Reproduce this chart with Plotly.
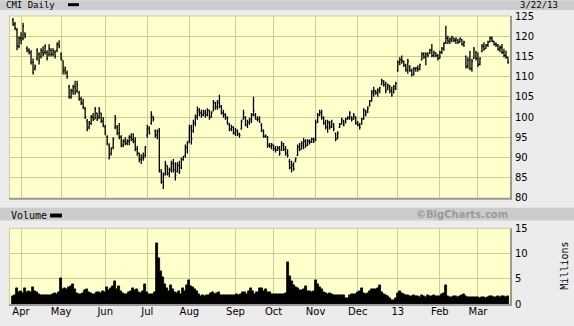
import pandas as pd
import plotly.graph_objects as go

# ---------------- data ----------------
holidays = ["2012-04-06", "2012-05-28", "2012-07-04", "2012-09-03", "2012-10-29",
            "2012-10-30", "2012-11-22", "2012-12-25", "2013-01-01", "2013-01-21",
            "2013-02-18"]
dates = [d.strftime("%Y-%m-%d") for d in pd.bdate_range("2012-03-27", "2013-03-22")
         if d.strftime("%Y-%m-%d") not in holidays]

opens = [124.0,123.0,121.5,117.5,119.5,119.5,120.5,117.0,116.5,116.0,
         113.5,112.0,114.5,115.5,115.0,116.0,116.0,116.0,115.5,116.5,
         115.5,116.0,116.5,118.0,115.5,114.0,111.5,111.0,107.5,105.0,
         106.5,107.5,106.5,106.0,104.5,103.5,102.0,99.0,97.5,98.5,
         100.0,99.5,101.0,100.0,101.0,99.0,97.5,95.0,93.0,91.0,
         92.5,97.5,97.5,96.0,95.0,93.0,94.0,93.5,94.0,95.0,
         94.5,94.0,92.0,91.0,89.5,90.0,90.5,95.5,97.0,98.5,
         100.0,96.5,95.5,96.5,86.5,84.0,86.0,88.0,86.0,87.0,
         88.5,87.0,86.5,88.0,87.5,89.5,90.5,92.5,94.0,97.0,
         96.5,98.5,100.0,101.5,101.0,100.5,101.0,100.5,101.5,100.0,
         101.5,103.5,102.5,103.5,102.5,101.0,100.5,99.8,98.0,97.0,
         97.5,96.0,96.5,95.8,97.0,99.5,100.0,98.0,98.5,99.0,
         100.5,100.5,99.5,99.5,98.0,96.5,95.2,95.0,93.0,92.8,
         93.0,92.2,91.8,92.3,91.8,93.0,92.0,91.0,89.0,87.5,
         88.0,89.0,90.5,92.5,92.0,93.0,94.0,93.0,94.0,93.8,
         94.5,94.5,98.8,100.5,101.0,99.8,98.5,97.5,98.5,97.5,
         98.0,96.0,94.8,97.5,98.3,99.0,98.5,99.5,99.8,100.0,
         99.5,100.0,98.5,98.0,98.3,99.5,101.5,101.2,102.8,104.0,
         106.0,106.5,106.0,106.5,108.0,108.8,108.0,106.8,107.5,106.5,
         106.0,107.0,111.5,113.5,114.0,113.8,112.8,111.5,112.5,111.5,
         110.5,111.8,112.0,111.8,114.2,115.5,114.8,115.5,115.8,116.5,
         115.2,115.8,115.2,114.5,116.0,116.8,118.5,119.5,118.8,119.0,
         119.5,119.0,119.0,118.5,119.2,118.0,115.0,112.5,114.0,112.0,
         114.5,116.0,114.5,113.0,116.2,117.5,117.0,117.8,118.6,119.5,
         118.8,118.0,117.8,116.8,117.2,116.0,115.2,114.8]

highs = [124.5,123.5,122.0,120.0,121.0,123.3,121.0,117.5,117.0,116.5,
         114.5,113.0,117.0,116.0,117.0,117.5,118.0,116.5,118.0,117.0,
         117.0,116.5,118.5,119.0,116.0,114.0,112.5,111.5,108.0,107.0,
         108.0,109.0,109.0,106.5,105.0,104.5,102.5,99.5,99.0,100.5,
         101.0,102.5,101.0,102.5,101.0,100.0,98.0,95.5,93.5,92.5,
         95.0,100.5,98.0,98.5,95.5,94.5,95.0,94.5,95.5,96.0,
         96.0,95.0,92.8,91.2,90.8,91.2,92.8,98.1,97.7,101.4,
         100.2,96.9,96.9,97.3,87.1,86.3,89.2,88.0,87.5,89.2,
         89.6,88.8,88.8,89.2,90.0,90.4,93.2,94.0,98.1,98.1,
         99.3,100.6,102.6,102.2,101.8,101.8,101.8,102.2,101.8,101.4,
         104.2,103.8,104.2,105.5,103.0,101.8,101.0,100.2,98.5,98.1,
         97.7,97.3,96.9,96.1,99.3,101.8,100.2,99.3,99.8,101.0,
         105.0,101.0,100.2,100.2,98.5,96.9,95.7,95.3,93.6,93.6,
         93.2,92.8,92.8,92.8,94.0,93.6,92.8,92.0,89.6,89.2,
         88.8,90.0,93.2,93.6,94.0,94.9,94.5,94.5,94.5,94.9,
         94.9,99.3,101.0,101.8,101.8,100.2,99.3,99.3,99.0,99.3,
         98.5,96.1,96.5,98.5,99.8,99.3,99.8,100.2,101.4,100.2,
         101.0,100.2,99.0,98.5,99.8,102.2,101.8,102.6,104.2,106.7,
         107.5,106.7,107.1,107.5,109.5,109.1,108.7,108.3,107.9,107.5,
         107.9,108.7,114.0,114.8,115.2,114.0,113.2,114.4,112.8,112.0,
         112.4,112.4,112.8,113.2,116.0,116.0,116.0,116.0,116.9,118.1,
         116.4,116.0,115.6,116.4,117.3,118.5,122.6,120.1,119.7,120.1,
         119.7,119.7,119.3,119.7,119.3,118.9,115.2,114.8,116.4,114.4,
         117.3,116.4,116.0,114.8,118.1,118.5,118.1,118.9,119.9,119.9,
         118.9,118.5,118.1,117.7,118.1,116.9,116.4,114.8]

lows = [122.5,121.5,116.5,117.0,118.0,119.0,119.5,116.0,115.5,113.0,
        110.5,111.5,114.0,113.0,114.5,115.0,115.5,114.0,115.0,115.0,
        115.0,114.5,116.0,117.0,114.0,110.5,110.5,109.5,104.5,104.5,
        105.5,105.5,106.0,104.0,103.0,102.0,99.5,96.5,97.0,98.0,
        99.0,99.5,99.0,99.5,98.5,97.5,95.5,93.0,89.5,90.5,
        92.0,97.0,95.5,94.5,92.5,92.5,93.0,93.0,93.0,94.0,
        93.5,91.5,90.4,88.8,88.4,89.2,90.0,94.9,95.7,98.1,
        98.9,94.9,94.5,86.3,83.5,82.2,85.5,85.5,85.1,86.3,
        86.3,84.3,86.3,85.9,87.1,89.2,90.0,91.0,93.6,93.2,
        96.1,97.7,99.3,100.2,99.8,100.2,99.8,100.2,99.3,99.8,
        101.4,101.8,101.8,102.2,100.6,99.8,99.3,98.1,96.5,96.5,
        95.7,95.3,95.3,94.9,96.9,99.3,97.7,97.3,98.1,98.5,
        100.2,99.3,98.9,98.5,96.3,94.9,94.9,92.4,92.4,92.0,
        91.6,91.2,91.6,90.4,91.6,91.6,90.4,90.0,87.1,86.3,
        86.7,88.8,90.4,91.6,92.0,92.0,92.4,92.8,93.2,93.6,
        93.6,94.0,98.5,100.2,99.3,98.1,96.9,96.1,96.9,97.3,
        96.5,94.0,94.5,97.3,98.1,97.7,98.5,99.3,99.3,98.9,
        99.3,98.1,97.7,96.9,98.1,99.3,100.2,101.0,102.6,103.8,
        105.0,105.5,105.0,105.9,107.9,107.5,105.9,106.7,105.9,105.0,
        105.9,106.7,111.2,112.8,113.2,112.4,111.2,110.7,111.2,110.0,
        110.3,111.2,111.2,111.6,114.0,114.4,112.8,114.8,115.6,114.8,
        114.8,114.8,114.0,114.4,115.6,116.4,118.1,118.1,118.1,118.5,
        118.5,118.1,118.1,118.5,117.7,117.3,112.0,112.0,111.6,111.2,
        114.4,114.0,112.4,112.8,116.0,116.4,116.9,117.3,118.5,118.5,
        117.7,117.3,116.4,116.0,115.6,114.8,114.4,113.2]

closes = [123.0,122.0,117.5,119.5,119.0,122.5,120.0,116.5,116.0,113.5,
          111.0,112.5,116.5,114.0,116.5,115.5,117.5,114.5,117.0,115.5,
          116.5,115.0,118.0,117.5,114.5,111.5,112.0,110.0,105.0,106.5,
          107.5,106.0,108.0,104.5,103.5,102.5,100.0,97.0,98.5,100.0,
          99.5,102.0,99.5,101.5,99.0,98.0,96.0,93.5,90.5,92.0,
          94.5,99.5,96.0,95.0,93.0,94.0,93.5,94.0,95.0,94.5,
          94.0,92.0,91.0,89.5,90.0,89.8,92.5,97.5,96.0,100.5,
          99.5,95.5,96.5,87.0,84.0,85.5,88.5,86.0,87.0,88.5,
          87.0,85.5,88.0,86.5,89.5,90.0,92.5,93.5,97.5,94.5,
          98.5,100.0,102.0,101.0,100.5,101.5,100.5,101.8,99.8,101.0,
          103.5,102.5,103.8,102.8,101.0,100.5,99.8,98.5,97.0,97.5,
          96.0,96.8,95.8,95.5,99.0,101.0,98.0,98.8,99.5,100.5,
          101.5,99.5,99.5,98.8,96.8,95.2,95.5,93.0,92.8,93.2,
          92.2,91.8,92.3,91.0,93.5,92.0,91.0,90.5,87.5,88.0,
          87.2,89.8,92.8,92.0,93.5,94.0,93.0,94.0,93.8,94.5,
          94.0,98.5,100.5,101.2,99.8,98.5,97.5,98.8,97.5,98.8,
          97.0,94.5,96.0,98.2,99.5,98.0,99.5,99.8,101.0,99.5,
          100.5,98.5,98.0,97.5,99.5,101.8,100.8,102.3,104.0,106.2,
          106.5,106.0,106.8,107.2,109.0,108.0,106.5,107.8,106.5,105.5,
          107.5,108.3,113.5,114.2,113.8,112.8,111.8,113.8,111.5,110.5,
          112.0,112.2,111.8,113.0,115.5,114.8,115.5,115.2,116.5,115.2,
          116.0,115.2,114.5,116.0,117.0,118.2,119.5,118.8,119.3,119.8,
          119.0,119.5,118.5,119.5,118.0,118.5,112.5,114.0,112.0,113.8,
          116.8,114.5,113.0,114.5,117.5,116.8,117.8,118.5,119.6,118.8,
          118.0,117.8,116.8,117.2,116.0,115.2,114.8,113.5]

volume_millions = [1.6,1.8,3.2,2.4,2.6,2.2,3.1,2.4,2.6,2.3,
                   3.4,2.6,2.4,2.0,1.7,1.8,1.7,1.8,1.7,1.8,
                   1.9,2.2,2.0,2.3,5.1,3.0,3.2,2.9,3.3,3.5,
                   3.9,2.9,2.1,1.9,2.0,2.1,2.8,3.0,2.4,2.2,
                   2.0,1.9,2.3,2.4,2.2,2.5,2.3,3.4,2.8,3.2,
                   3.6,4.4,3.0,3.5,2.6,2.2,2.0,2.0,2.3,2.6,
                   3.2,2.7,3.0,2.4,2.2,2.6,3.9,2.3,1.9,2.0,
                   1.9,2.3,12.0,9.0,6.5,5.2,4.0,3.2,2.6,3.8,
                   3.0,2.4,2.2,2.6,2.0,3.1,2.6,3.8,4.7,3.6,
                   3.4,3.0,2.5,1.9,1.6,1.8,1.6,1.7,1.8,2.1,
                   2.4,2.0,2.2,2.3,1.8,1.8,1.7,1.8,1.8,1.7,
                   1.8,1.8,1.9,1.8,1.9,2.4,2.3,2.0,2.6,3.2,
                   2.6,2.0,2.4,3.1,3.2,2.5,2.9,2.4,2.3,1.9,
                   1.9,2.0,2.0,1.9,2.0,2.0,2.1,8.2,5.5,4.4,
                   3.8,3.4,3.2,2.8,2.7,2.9,3.5,2.6,2.5,2.3,
                   2.5,4.6,3.9,3.3,3.0,2.3,2.2,2.0,2.2,1.9,
                   1.8,1.7,1.7,1.7,1.7,1.7,1.1,1.2,1.8,2.0,
                   1.9,2.0,2.4,2.6,3.2,2.2,2.0,2.1,2.6,3.0,
                   2.9,3.0,3.2,3.7,2.4,2.0,1.7,1.5,1.1,0.8,
                   0.7,1.2,2.1,2.6,2.2,1.9,1.7,1.7,1.6,1.6,
                   1.7,1.6,1.5,1.4,1.8,1.6,1.4,1.8,1.6,1.5,
                   1.7,1.5,1.5,1.6,1.9,2.2,3.8,1.6,1.4,1.3,
                   1.5,1.6,1.4,1.5,1.8,2.0,1.5,1.4,1.4,1.3,
                   1.3,1.4,1.3,1.2,1.3,1.3,1.2,1.3,1.6,1.5,
                   1.4,1.3,1.5,1.4,1.5,1.6,1.4,1.5]

month_labels = ["Apr", "May", "Jun", "Jul", "Aug", "Sep", "Oct", "Nov", "Dec", "13", "Feb", "Mar"]
price_ticks = [80, 85, 90, 95, 100, 105, 110, 115, 120, 125]
volume_ticks = [0, 5, 10, 15]

# first trading day of each month (month starts after the first, partial month)
month_starts = [d for i, d in enumerate(dates) if i > 0 and d[:7] != dates[i - 1][:7]]

# ---------------- geometry helpers (pixel -> paper) ----------------
W, H = 574, 326
L, R, T, B = 9, 64, 16, 17
PW, PH = W - L - R, H - T - B


def px(p):
    return (p - L) / PW


def py(p):
    return (H - B - p) / PH


GRID = "#cccc99"
PLOT_BG = "#ffffcc"
PAPER = "#ececec"
STRIP = "#cccccc"
SHADOW = "#999999"

fig = go.Figure()
fig.add_trace(go.Ohlc(
    x=dates, open=opens, high=highs, low=lows, close=closes,
    xaxis="x", yaxis="y", tickwidth=0.5,
    increasing=dict(line=dict(color="black", width=1.3)),
    decreasing=dict(line=dict(color="black", width=1.3)),
    showlegend=False, hoverinfo="skip",
))
fig.add_trace(go.Bar(
    x=dates, y=volume_millions, xaxis="x2", yaxis="y2",
    marker=dict(color="black", line=dict(width=0.8, color="black")), width=1.0,
    showlegend=False, hoverinfo="skip",
))

xcommon = dict(type="category", range=[-2.0, 248.0], tickmode="array",
               tickvals=month_starts, ticktext=month_labels, showgrid=True,
               gridcolor=GRID, gridwidth=1, ticks="", showline=False, zeroline=False,
               tickfont=dict(family="DejaVu Sans", size=10, color="black"))

fig.update_layout(
    width=W, height=H,
    margin=dict(l=L, r=R, t=T, b=B, pad=0),
    paper_bgcolor=PAPER, plot_bgcolor=PLOT_BG,
    bargap=0,
    xaxis=dict(xcommon, domain=[0, 1], anchor="y", showticklabels=False,
               rangeslider=dict(visible=False)),
    xaxis2=dict(xcommon, domain=[0, 1], anchor="y2", matches="x", showticklabels=True,
                rangeslider=dict(visible=False)),
    yaxis=dict(domain=[py(201), py(16)], range=[80, 125], side="right",
               tickvals=price_ticks, showgrid=True, gridcolor=GRID, gridwidth=1,
               zeroline=False, ticks="", ticklabelstandoff=4,
               tickfont=dict(family="DejaVu Sans", size=10, color="black")),
    yaxis2=dict(domain=[0, py(232)], range=[0, 15], side="right",
                tickvals=volume_ticks, showgrid=True, gridcolor=GRID, gridwidth=1,
                zeroline=False, ticks="", ticklabelstandoff=4,
                tickfont=dict(family="DejaVu Sans", size=10, color="black")),
)

shapes = [
    # header strips
    dict(type="rect", xref="paper", yref="paper", x0=px(0), x1=px(W), y0=py(10), y1=py(0),
         fillcolor=STRIP, line=dict(width=0), layer="below"),
    dict(type="rect", xref="paper", yref="paper", x0=px(0), x1=px(W), y0=py(224), y1=py(211),
         fillcolor=STRIP, line=dict(width=0), layer="below"),
    # legend swatches
    dict(type="rect", xref="paper", yref="paper", x0=px(68), x1=px(79), y0=py(6), y1=py(3),
         fillcolor="black", line=dict(width=0)),
    dict(type="rect", xref="paper", yref="paper", x0=px(50), x1=px(62), y0=py(221), y1=py(217),
         fillcolor="black", line=dict(width=0)),
]
# panel frames: light olive top/left, grey shadow right/bottom
for top, bot in [(16, 201), (232, 309)]:
    shapes += [
        dict(type="line", xref="paper", yref="paper", x0=px(9), x1=px(510), y0=py(top), y1=py(top),
             line=dict(color=GRID, width=1)),
        dict(type="line", xref="paper", yref="paper", x0=px(9.5), x1=px(9.5), y0=py(top), y1=py(bot),
             line=dict(color=GRID, width=1)),
        dict(type="line", xref="paper", yref="paper", x0=px(511), x1=px(511), y0=py(top), y1=py(bot + 2),
             line=dict(color=SHADOW, width=2)),
        dict(type="line", xref="paper", yref="paper", x0=px(9), x1=px(512), y0=py(bot + 1), y1=py(bot + 1),
             line=dict(color=SHADOW, width=2)),
    ]
fig.update_layout(shapes=shapes)

annotations = [
    dict(text="CMI Daily", x=px(4), y=py(5), xref="paper", yref="paper", xanchor="left",
         yanchor="middle", showarrow=False,
         font=dict(family="DejaVu Sans Mono", size=9, color="black")),
    dict(text="3/22/13", x=px(518), y=py(5), xref="paper", yref="paper", xanchor="left",
         yanchor="middle", showarrow=False,
         font=dict(family="DejaVu Sans Mono", size=9, color="black")),
    dict(text="Volume", x=px(9), y=py(218.5), xref="paper", yref="paper", xanchor="left",
         yanchor="middle", showarrow=False,
         font=dict(family="DejaVu Sans Mono", size=10, color="black")),
    dict(text="<b>©BigCharts.com</b>", x=px(462), y=py(217.5), xref="paper", yref="paper",
         xanchor="center", yanchor="middle", showarrow=False,
         font=dict(family="DejaVu Sans", size=10, color="#999999")),
    dict(text="Millions", x=px(565), y=py(270), xref="paper", yref="paper", xanchor="center",
         yanchor="middle", showarrow=False, textangle=-90,
         font=dict(family="DejaVu Sans Mono", size=10, color="black")),
]
fig.update_layout(annotations=annotations)

fig.write_html("out.html")
